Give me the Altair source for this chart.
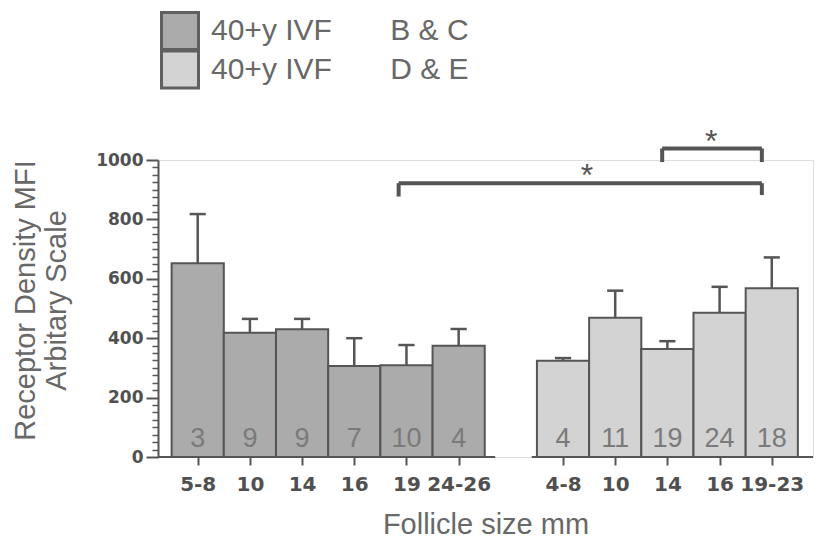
import json
import altair as alt
import pandas as pd

# ---- data ----
labels_bc = ["5-8", "10", "14", "16", "19", "24-26"]
mean_bc = [652, 418, 430, 306, 309, 375]
err_bc = [818, 465, 465, 400, 377, 431]
n_bc = [3, 9, 9, 7, 10, 4]

labels_de = ["4-8", "10", "14", "16", "19-23"]
mean_de = [324, 469, 364, 486, 568]
err_de = [333, 560, 390, 573, 672]
n_de = [4, 11, 19, 24, 18]

NB = "\u00a0"
grp_bc = "40+y IVF" + NB * 7 + "B & C"
grp_de = "40+y IVF" + NB * 7 + "D & E"
col_bc = "#ababab"
col_de = "#d3d3d3"

y_major = [0, 200, 400, 600, 800, 1000]
y_minor = [v for v in range(0, 1001, 25) if v % 200 != 0]

# significance brackets (slot units / value units)
brk_from = [3.85, 8.90]
brk_to = [10.81, 10.81]
brk_level = [922, 1039]
brk_drop_left = [877, 993]
brk_drop_right = [882, 993]
star_x = [7.46, 9.84]
star_y = [973, 1088]

# ---- build tables ----
pos_bc = list(range(len(labels_bc)))
pos_de = [len(labels_bc) + 1 + i for i in range(len(labels_de))]
all_labels = labels_bc + [""] + labels_de

rows = []
for p, l, m, e, n in zip(pos_bc, labels_bc, mean_bc, err_bc, n_bc):
    rows.append(dict(pos=p, label=l, val=m, err=e, n=str(n), grp=grp_bc))
for p, l, m, e, n in zip(pos_de, labels_de, mean_de, err_de, n_de):
    rows.append(dict(pos=p, label=l, val=m, err=e, n=str(n), grp=grp_de))
df = pd.DataFrame(rows)
df["lo"] = df["pos"] - 0.5
df["hi"] = df["pos"] + 0.5
df["cl"] = df["pos"] - 0.155
df["cr"] = df["pos"] + 0.155

x_dom = [-0.761, 11.79]
seg = pd.DataFrame({"s": [x_dom[0], pos_de[0] - 0.6], "e": [pos_bc[-1] + 0.7, x_dom[1]]})

brk = pd.DataFrame(dict(f=brk_from, t=brk_to, lv=brk_level, dl=brk_drop_left, dr=brk_drop_right))
stars = pd.DataFrame(dict(x=star_x, y=star_y, s=["*", "*"]))

DARK = "#555555"
TXT = "#686868"

xscale = alt.Scale(domain=x_dom, nice=False, zero=False)
yscale = alt.Scale(domain=[0, 1000], nice=False)

xaxis = alt.Axis(
    values=pos_bc + pos_de,
    labelExpr=json.dumps(all_labels) + "[datum.value]",
    domain=False, grid=False,
    tickSize=8, tickWidth=2, tickColor=DARK,
    labelFont="DejaVu Sans", labelFontWeight="bold", labelFontSize=20,
    labelColor="#505050", labelPadding=9, labelOverlap=False, labelFlush=False,
    title="Follicle size mm", titleFont="Liberation Sans", titleFontSize=29,
    titleFontWeight="normal", titleColor=TXT, titleBaseline="alphabetic",
    titleY=76,
)
yaxis = alt.Axis(
    values=y_major, format="d",
    grid=False, domainColor=DARK, domainWidth=2,
    tickColor=DARK, tickWidth=2, tickSize=12,
    labelFont="DejaVu Sans", labelFontWeight="bold", labelFontSize=17,
    labelColor="#505050", labelPadding=3, labelOverlap=False, labelFlush=False,
    title=["Receptor Density MFI", "Arbitary Scale"],
    titleFont="Liberation Sans", titleFontSize=29, titleFontWeight="normal",
    titleColor=TXT, titleLineHeight=31, titleBaseline="alphabetic",
    titleAlign="center", titleAngle=-90, titleX=-124, titleY=140,
)
yaxis_minor = alt.Axis(
    orient="left", values=y_minor, labels=False, domain=False, grid=False,
    tickColor=DARK, tickWidth=1.5, tickSize=6, title=None,
)

X = lambda f: alt.X(f, type="quantitative", scale=xscale, axis=xaxis)
Y = lambda f: alt.Y(f, type="quantitative", scale=yscale, axis=yaxis)


def legend_for(ly):
    return alt.Legend(
        orient="none", legendX=2, legendY=ly, title=None,
        symbolType="square", symbolSize=1369, symbolStrokeWidth=3,
        symbolStrokeColor="#606060", symbolOpacity=1,
        labelFont="Liberation Sans", labelFontSize=30, labelColor=TXT,
        labelOffset=11, padding=0, labelLimit=400,
    )


def bar_layer(grp, col, ly):
    return alt.Chart(df).transform_filter(
        alt.datum.grp == grp
    ).mark_rect(stroke=DARK, strokeWidth=2).encode(
        x=X("lo"), x2="hi", y=Y("val"), y2=alt.datum(0),
        color=alt.Color("grp:N", scale=alt.Scale(domain=[grp], range=[col]),
                        legend=legend_for(ly)),
    )


bars_bc = bar_layer(grp_bc, col_bc, -149)
bars_de = bar_layer(grp_de, col_de, -110.5)

err_line = alt.Chart(df).mark_rule(color=DARK, strokeWidth=2.5).encode(
    x=X("pos"), y=Y("val"), y2="err"
)
err_cap = alt.Chart(df).mark_rule(color=DARK, strokeWidth=2.5).encode(
    x=X("cl"), x2="cr", y=Y("err")
)
counts = alt.Chart(df).mark_text(
    baseline="alphabetic", dy=-10, fontSize=27, font="Liberation Sans", color="#7a7a7a"
).encode(x=X("pos"), y=alt.datum(0), text="n:N")

xline = alt.Chart(seg).mark_rule(color=DARK, strokeWidth=2).encode(
    x=X("s"), x2="e", y=alt.datum(0)
)

bh = alt.Chart(brk).mark_rule(color=DARK, strokeWidth=4).encode(x=X("f"), x2="t", y=Y("lv"))
bl = alt.Chart(brk).mark_rule(color=DARK, strokeWidth=4).encode(x=X("f"), y=Y("dl"), y2="lv")
br = alt.Chart(brk).mark_rule(color=DARK, strokeWidth=4).encode(x=X("t"), y=Y("dr"), y2="lv")

star = alt.Chart(stars).mark_text(
    baseline="alphabetic", dy=18, fontSize=32, font="Liberation Sans", color=DARK
).encode(x=X("x"), y=Y("y"), text="s:N")

main = alt.layer(bars_bc, bars_de, err_line, err_cap, counts, xline, bh, bl, br, star
                 ).resolve_scale(color="independent")

minor = alt.Chart(pd.DataFrame({"v": [0]})).mark_point(opacity=0).encode(
    y=alt.Y("v:Q", scale=yscale, axis=yaxis_minor)
)

chart = alt.layer(main, minor).resolve_axis(y="independent").properties(
    width=655, height=297,
    padding={"left": 150, "top": 152, "right": 1, "bottom": 84},
    autosize=alt.AutoSizeParams(type="none"),
).configure_view(stroke=None).configure(background="white")

chart.save("out.html", embed_options={"renderer": "svg", "actions": False})
